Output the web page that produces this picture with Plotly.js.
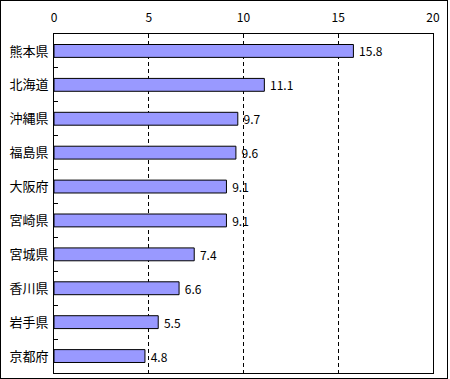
<!DOCTYPE html>
<html><head><meta charset="utf-8">
<script src="https://cdn.plot.ly/plotly-3.0.1.min.js"></script>
<style>
html,body{margin:0;padding:0;background:#fff;}
#wrap{position:absolute;left:0;top:0;width:448px;height:379px;box-sizing:border-box;border:1px solid #000;background:#fff;}
#chart{position:absolute;left:0;top:0;width:446px;height:377px;}
</style></head>
<body><div id="wrap"><div id="chart"></div></div>
<script>
const categories = ["熊本県","北海道","沖縄県","福島県","大阪府","宮崎県","宮城県","香川県","岩手県","京都府"];
const values = [15.8, 11.1, 9.7, 9.6, 9.1, 9.1, 7.4, 6.6, 5.5, 4.8];
const xTicks = [0, 5, 10, 15, 20];
const font = "'Noto Sans CJK JP', 'Noto Sans', sans-serif";

const trace = {
  type: 'bar', orientation: 'h',
  y: categories, x: values,
  width: 0.38,
  marker: {color: '#9999ff', line: {color: '#000', width: 1}},
  text: values.map(v => '\u00a0' + v.toFixed(1)),
  textposition: 'outside',
  constraintext: 'none',
  textfont: {family: font, size: 12, color: '#000'},
  cliponaxis: false,
  hoverinfo: 'none'
};
const layout = {
  width: 446, height: 377,
  margin: {l: 53, r: 14, t: 33, b: 5},
  paper_bgcolor: '#fff', plot_bgcolor: '#fff',
  showlegend: false,
  font: {family: font, size: 12, color: '#000'},
  xaxis: {
    side: 'top', range: [0, 20], tickvals: xTicks, ticktext: xTicks.map(String),
    showgrid: true, gridcolor: '#000', griddash: '4px,3px', gridwidth: 1,
    zeroline: false, showline: true, linecolor: '#000', linewidth: 1, mirror: true,
    ticks: '', ticklabelstandoff: 6, tickfont: {size: 12}
  },
  yaxis: {
    type: 'category', autorange: 'reversed',
    showline: true, linecolor: '#000', linewidth: 1, mirror: true,
    ticks: 'inside', tickson: 'boundaries', ticklen: 4, tickcolor: '#000',
    showgrid: false, tickfont: {size: 13}, ticklabelstandoff: 2
  }
};
Plotly.newPlot('chart', [trace], layout, {staticPlot: true, displayModeBar: false});
</script></body></html>
